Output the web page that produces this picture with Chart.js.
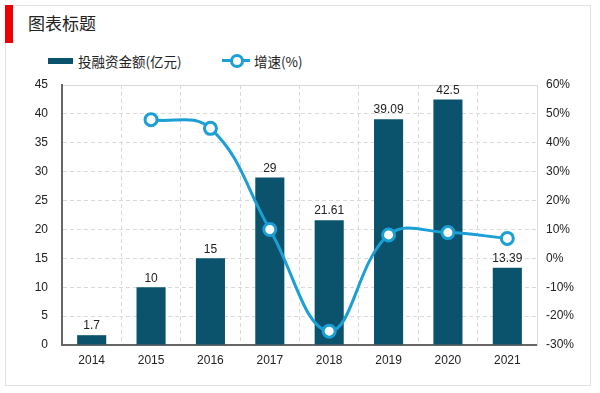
<!DOCTYPE html>
<html>
<head>
<meta charset="utf-8">
<script src="https://cdn.jsdelivr.net/npm/chart.js@4.4.1/dist/chart.umd.min.js"></script>
<style>
  body { margin: 0; background: #fff; font-family: "Noto Sans CJK SC", "Liberation Sans", sans-serif; }
  #wrap { position: relative; width: 600px; height: 393px; }
  #frame { position: absolute; left: 5px; top: 5px; width: 586px; height: 381px; border: 1px solid #e3e3e3; box-sizing: border-box; }
  #redbar { position: absolute; left: 5px; top: 5px; width: 8px; height: 38px; background: #ee0000; }
  #title { position: absolute; left: 28px; top: 10px; font-size: 17px; color: #222; }
  .leg { position: absolute; top: 51px; font-size: 13.5px; color: #222; line-height: 20px; }
  .sw-bar { position: absolute; left: 48px; top: 58px; width: 25px; height: 6px; background: #0b536c; }
  .sw-line { position: absolute; left: 222px; top: 59px; width: 28px; height: 3px; background: #1b9fd5; }
  .sw-dot { position: absolute; left: 230px; top: 54px; width: 8px; height: 8px; border: 3px solid #1b9fd5; border-radius: 50%; background: #fff; }
  canvas { position: absolute; left: 0; top: 0; }
</style>
</head>
<body>
<div id="wrap">
  <div id="frame"></div>
  <div id="redbar"></div>
  <div id="title">图表标题</div>
  <div class="sw-bar"></div>
  <div class="leg" style="left:78px">投融资金额(亿元)</div>
  <div class="sw-line"></div>
  <div class="sw-dot"></div>
  <div class="leg" style="left:254px">增速(%)</div>
  <canvas id="chart" width="600" height="393"></canvas>
</div>
<script>
const years = ['2014', '2015', '2016', '2017', '2018', '2019', '2020', '2021'];
const amount = [1.7, 10, 15, 29, 21.61, 39.09, 42.5, 13.39];
const growth = [null, 48, 45, 10, -25.2, 8.1, 8.9, 6.9];

const gridColor = '#d9d9d9';

// 柱子上方数值
const barLabels = {
  id: 'barLabels',
  afterDatasetsDraw(chart) {
    const ctx = chart.ctx;
    const meta = chart.getDatasetMeta(1);
    ctx.save();
    ctx.font = '12px "Liberation Sans", Arial, sans-serif';
    ctx.fillStyle = '#222';
    ctx.textAlign = 'center';
    ctx.textBaseline = 'bottom';
    meta.data.forEach((bar, i) => {
      ctx.fillText(String(amount[i]), bar.x, bar.y - 3);
    });
    ctx.restore();
  }
};

// 绘图区外框
const areaBorder = {
  id: 'areaBorder',
  beforeDraw(chart) {
    const a = chart.chartArea;
    const ctx = chart.ctx;
    ctx.save();
    ctx.strokeStyle = gridColor;
    ctx.lineWidth = 1;
    ctx.strokeRect(a.left + 0.5, a.top + 0.5, a.right - a.left, a.bottom - a.top);
    ctx.restore();
  }
};

const tickFont = { family: '"Liberation Sans", Arial, sans-serif', size: 12 };

new Chart(document.getElementById('chart'), {
  data: {
    labels: years,
    datasets: [
      {
        type: 'line',
        label: '增速(%)',
        data: growth,
        yAxisID: 'y1',
        borderColor: '#1b9fd5',
        borderWidth: 3,
        backgroundColor: '#fff',
        pointBackgroundColor: '#fff',
        pointBorderColor: '#1b9fd5',
        pointBorderWidth: 3,
        pointRadius: 6,
        tension: 0.4,
        order: 1
      },
      {
        type: 'bar',
        label: '投融资金额(亿元)',
        data: amount,
        yAxisID: 'y',
        backgroundColor: '#0b536c',
        categoryPercentage: 1,
        barPercentage: 0.49,
        order: 2
      }
    ]
  },
  options: {
    responsive: false,
    animation: false,
    layout: { padding: { top: 85, left: 0, right: 0, bottom: 0 } },
    plugins: { legend: { display: false }, tooltip: { enabled: false } },
    scales: {
      x: {
        grid: { color: gridColor, drawTicks: false },
        border: { color: '#666', width: 2, dash: [4, 3] },
        ticks: { color: '#222', font: tickFont, padding: 8 },
        afterFit(s) { s.height = 48; }
      },
      y: {
        position: 'left',
        min: 0, max: 45,
        ticks: { stepSize: 5, color: '#222', font: tickFont, padding: 14 },
        grid: { color: gridColor, drawTicks: false },
        border: { color: '#666', width: 2, dash: [4, 3] },
        afterFit(s) { s.width = 62; }
      },
      y1: {
        position: 'right',
        min: -30, max: 60,
        ticks: { stepSize: 10, color: '#222', font: tickFont, padding: 9, callback: v => v + '%' },
        grid: { drawOnChartArea: false, drawTicks: false },
        border: { color: gridColor },
        afterFit(s) { s.width = 63; }
      }
    }
  },
  plugins: [areaBorder, barLabels]
});
</script>
</body>
</html>
